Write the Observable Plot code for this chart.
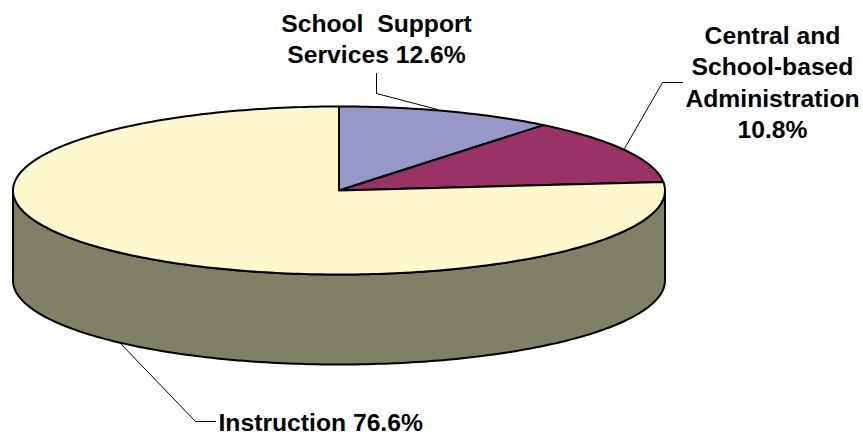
<!DOCTYPE html>
<html>
<head>
<meta charset="utf-8">
<script src="https://cdn.jsdelivr.net/npm/d3@7"></script>
<script src="https://cdn.jsdelivr.net/npm/@observablehq/plot@0.6"></script>
<style>
html,body{margin:0;padding:0;background:#fff}
svg text{white-space:pre}
</style>
</head>
<body>
<div id="chart"></div>
<script>
// Slices in drawing order, clockwise from twelve o'clock (angles)
const sliceNames = ["Blue", "Purple", "Cream"];
const sliceShares = [10.8, 12.6, 76.6];
const sliceColors = ["#9797C9", "#993366", "#FDF9CD"];
const wallColor = "#808066";

// Labels as printed on the chart
const labelTexts = ["School  Support\nServices 12.6%", "Central and\nSchool-based\nAdministration\n10.8%", "Instruction 76.6%"];
const labelX = [376, 772, 218];
const labelY = [37, 80.5, 420.5];
const labelAnchor = ["middle", "middle", "start"];

// Leader lines
const leaderIds = [0, 0, 0, 1, 1, 1, 2, 2, 2];
const leaderX = [376, 376, 437, 682, 662, 624, 215, 195, 120];
const leaderY = [73, 93, 109, 82, 82, 148, 421, 421, 343];

// Pie geometry
const cx = 338.5, cy = 190, rx = 326, ry = 84, depth = 90;
const rim = (deg, drop = 0) => {
  const t = deg * Math.PI / 180;
  return {x: cx + rx * Math.sin(t), y: cy + drop - ry * Math.cos(t)};
};

let start = 0;
const slicePoints = sliceNames.flatMap((name, i) => {
  const end = start + sliceShares[i] * 3.6;
  const pts = [{name, x: cx, y: cy}];
  const n = Math.ceil(end - start);
  for (let k = 0; k <= n; ++k) pts.push({name, ...rim(start + (end - start) * k / n)});
  start = end;
  return pts;
});

const wallPoints = [];
for (let d = 90; d <= 270; d += 1) wallPoints.push(rim(d, depth));
for (let d = 270; d >= 90; d -= 1) wallPoints.push(rim(d));

const leaders = leaderIds.map((id, i) => ({id, x: leaderX[i], y: leaderY[i]}));
const labels = labelTexts.map((text, i) => ({text, x: labelX[i], y: labelY[i], anchor: labelAnchor[i]}));

const textOpts = {
  x: "x", y: "y", text: "text",
  fontFamily: "Liberation Sans, Arial, sans-serif",
  fontSize: 24.7, fontWeight: "bold", fill: "#000",
  lineHeight: 1.265, lineAnchor: "middle"
};

const chart = Plot.plot({
  width: 863,
  height: 432,
  margin: 0,
  x: {domain: [0, 863], range: [0, 863], axis: null},
  y: {domain: [0, 432], range: [0, 432], axis: null},
  color: {domain: sliceNames, range: sliceColors},
  style: {background: "#fff", display: "block"},
  marks: [
    Plot.line(leaders, {x: "x", y: "y", z: "id", stroke: "#000", strokeWidth: 1}),
    Plot.line(wallPoints, {x: "x", y: "y", curve: "linear-closed", fill: wallColor, stroke: "#000", strokeWidth: 2, strokeLinejoin: "round"}),
    Plot.line(slicePoints, {x: "x", y: "y", z: "name", fill: "name", curve: "linear-closed", stroke: "#000", strokeWidth: 2, strokeLinejoin: "round"}),
    Plot.text(labels.filter(d => d.anchor === "middle"), {...textOpts, textAnchor: "middle"}),
    Plot.text(labels.filter(d => d.anchor === "start"), {...textOpts, textAnchor: "start"})
  ]
});
document.getElementById("chart").append(chart);
</script>
</body>
</html>
